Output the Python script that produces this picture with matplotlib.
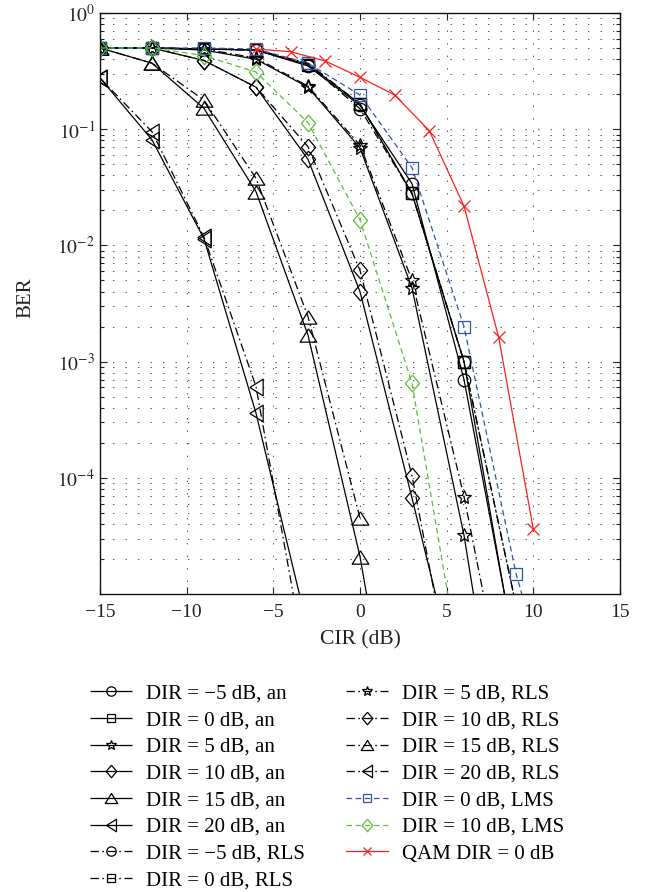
import numpy as np
import matplotlib
matplotlib.use("Agg")
import matplotlib.pyplot as plt
from matplotlib.ticker import LogLocator, NullFormatter, FixedLocator
from matplotlib.markers import MarkerStyle

plt.rcParams['font.family'] = ['Liberation Serif', 'DejaVu Serif']
plt.rcParams['mathtext.fontset'] = 'stix'
plt.rcParams['lines.scale_dashes'] = False

# ---------------- data ----------------
cir = [-15, -12, -9, -6, -3, 0, 3, 6, 9, 12]
cir_qam = [-6, -4, -2, 0, 2, 4, 6, 8, 10]

ber_m5_an = [0.5, 0.5, 0.49, 0.48, 0.35, 0.16, 0.034, 7.0e-4, 3.0e-6]
ber_0_an = [0.5, 0.5, 0.49, 0.48, 0.36, 0.165, 0.028, 1.0e-3, 2.7e-6]
ber_5_an = [0.5, 0.5, 0.48, 0.40, 0.23, 0.069, 4.3e-3, 3.2e-5, 5.4e-8]
ber_10_an = [0.5, 0.5, 0.39, 0.23, 0.055, 4.0e-3, 6.7e-5, 1.0e-6]
ber_15_an = [0.5, 0.37, 0.151, 0.029, 1.69e-3, 2.1e-5, 5.6e-8]
ber_20_an = [0.276, 0.081, 0.0114, 3.6e-4, 4.9e-6]

ber_m5_rls = [0.5, 0.5, 0.49, 0.48, 0.36, 0.15, 0.028, 1.0e-3, 8.0e-6]
ber_0_rls = [0.5, 0.5, 0.49, 0.48, 0.37, 0.165, 0.028, 1.0e-3, 8.0e-6]
ber_5_rls = [0.5, 0.5, 0.49, 0.41, 0.235, 0.073, 5.0e-3, 6.9e-5, 3.9e-7]
ber_10_rls = [0.5, 0.5, 0.39, 0.23, 0.0707, 6.1e-3, 1.04e-4, 4.7e-7]
ber_15_rls = [0.5, 0.37, 0.178, 0.0378, 2.44e-3, 4.5e-5]
ber_20_rls = [0.276, 0.095, 0.0118, 6.1e-4, 1.95e-6]

ber_0_lms = [0.5, 0.5, 0.5, 0.49, 0.37, 0.197, 0.0467, 2.0e-3, 1.5e-5, 4.0e-7]
ber_10_lms = [0.5, 0.5, 0.43, 0.31, 0.114, 0.0166, 6.5e-4, 1.5e-6]

ber_qam = [0.49, 0.464, 0.386, 0.28, 0.197, 0.097, 0.0218, 1.62e-3, 3.6e-5]

labels = [
    'DIR = \u22125 dB, an', 'DIR = 0 dB, an', 'DIR = 5 dB, an',
    'DIR = 10 dB, an', 'DIR = 15 dB, an', 'DIR = 20 dB, an',
    'DIR = \u22125 dB, RLS', 'DIR = 0 dB, RLS', 'DIR = 5 dB, RLS',
    'DIR = 10 dB, RLS', 'DIR = 15 dB, RLS', 'DIR = 20 dB, RLS',
    'DIR = 0 dB, LMS', 'DIR = 10 dB, LMS', 'QAM DIR = 0 dB',
]

x_ticks = [-15, -10, -5, 0, 5, 10, 15]
y_ticks = [1e-4, 1e-3, 1e-2, 1e-1, 1e0]
y_ticklabels = ['$10^{-4}$', '$10^{-3}$', '$10^{-2}$', '$10^{-1}$', '$10^{0}$']

# ---------------- styles ----------------
diamond = MarkerStyle([(0, 1), (0.85, 0), (0, -1), (-0.85, 0), (0, 1)])
tri_up = MarkerStyle([(0, 0.8), (1, -0.8), (-1, -0.8), (0, 0.8)])
tri_left = MarkerStyle([(-0.8, 0), (0.8, 1), (0.8, -1), (-0.8, 0)])

mk = {'o': ('o', 9), 's': ('s', 8.5), 'p': ('*', 10.5), 'd': (diamond, 12),
      't': (tri_up, 12), 'l': (tri_left, 12)}

solid = (0, ())
dashdot = (0, (6, 2.5, 1.2, 2.5))
dashed = (0, (4, 2.6))

blue = '#2f55a8'
green = '#5cbf3a'
red = '#ff2020'

series = [
    (ber_m5_an, 'o', solid, 'k'), (ber_0_an, 's', solid, 'k'),
    (ber_5_an, 'p', solid, 'k'), (ber_10_an, 'd', solid, 'k'),
    (ber_15_an, 't', solid, 'k'), (ber_20_an, 'l', solid, 'k'),
    (ber_m5_rls, 'o', dashdot, 'k'), (ber_0_rls, 's', dashdot, 'k'),
    (ber_5_rls, 'p', dashdot, 'k'), (ber_10_rls, 'd', dashdot, 'k'),
    (ber_15_rls, 't', dashdot, 'k'), (ber_20_rls, 'l', dashdot, 'k'),
    (ber_0_lms, 's', dashed, blue), (ber_10_lms, 'd', dashed, green),
]

fig = plt.figure(figsize=(6.5, 8.92), dpi=100)
ax = fig.add_axes([100 / 650, 1 - 594 / 892, 520 / 650, (594 - 13) / 892])

handles = []
for vals, m, ls, col in series:
    marker, ms = mk[m]
    h, = ax.plot(cir[:len(vals)], vals, linestyle=ls, color=col, lw=0.9,
                 marker=marker, markersize=ms, markerfacecolor='none',
                 markeredgecolor=col, markeredgewidth=0.9)
    handles.append(h)
h, = ax.plot(cir_qam, ber_qam, linestyle='-', color=red, lw=0.9, marker='x',
             markersize=8.5, markeredgewidth=0.9)
handles.append(h)

ax.set_yscale('log')
ax.set_xlim(-15, 15)
ax.set_ylim(1e-5, 1)
ax.set_xticks(x_ticks)
ax.yaxis.set_major_locator(FixedLocator(y_ticks))
ax.set_yticklabels(y_ticklabels)
ax.yaxis.set_minor_locator(LogLocator(base=10, subs=np.arange(2, 10), numticks=20))
ax.yaxis.set_minor_formatter(NullFormatter())

grid_kw = dict(color='#555555', linewidth=0.7, linestyle=(0, (1, 8)))
ax.xaxis.grid(True, which='major', **grid_kw)
ax.yaxis.grid(True, which='major', **grid_kw)
ax.yaxis.grid(True, which='minor', **grid_kw)

ax.tick_params(which='both', direction='in', top=True, right=True,
               labelsize=14, colors='#222222', width=0.8)
ax.tick_params(which='major', length=5)
ax.tick_params(which='minor', length=3)
ax.tick_params(axis='x', pad=7)
for s in ax.spines.values():
    s.set_linewidth(1.0)
    s.set_color('#111111')

ax.set_xlabel('CIR (dB)', fontsize=15.5, color='#222222', labelpad=7)
ax.set_ylabel('BER', fontsize=15, color='#222222')
ax.yaxis.set_label_coords(-0.125, 0.51)

fig.legend(handles, labels, loc='upper left', bbox_to_anchor=(90 / 650, 1 - 684 / 892),
           ncol=2, frameon=False, fontsize=15, borderpad=0, borderaxespad=0,
           handlelength=2.0, handletextpad=0.68, columnspacing=2.0,
           labelspacing=0.34, markerscale=0.75)

fig.savefig('out.png', dpi=100)
